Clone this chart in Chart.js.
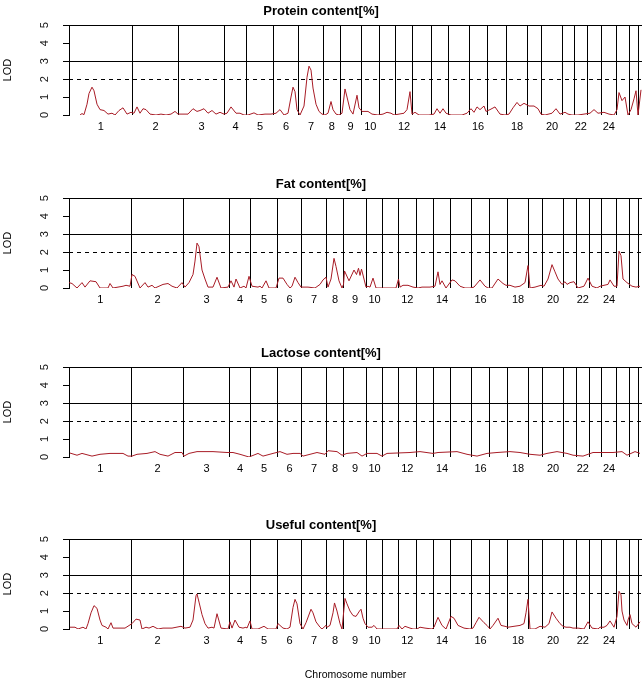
<!DOCTYPE html>
<html>
<head>
<meta charset="utf-8">
<title>LOD profiles</title>
<script src="https://cdn.jsdelivr.net/npm/chart.js@4.4.0/dist/chart.umd.min.js"></script>
<style>
  html, body { margin: 0; padding: 0; background: #fff; overflow: hidden; }
  #wrap { position: relative; width: 642px; height: 680px; }
  canvas { position: absolute; left: 0; }
</style>
</head>
<body>
<div id="wrap">
  <canvas id="c0" width="642" height="145" style="top:-1px"></canvas>
  <canvas id="c1" width="642" height="145" style="top:172px"></canvas>
  <canvas id="c2" width="642" height="145" style="top:341px"></canvas>
  <canvas id="c3" width="642" height="167" style="top:513px"></canvas>
</div>
<script>
// Datos (posición en cM acumulados, LOD)
const xMax = 1146;
const lodMax = 5;
const thresholdLod = 2;
const solidLods = [3, 5];

const chromLabels = ['1', '2', '3', '4', '5', '6', '7', '8', '9', '10', '', '12', '', '14', '', '16', '', '18', '', '20', '', '22', '', '24', '', ''];

// inicio de cada cromosoma (mapa de proteína y mapa de los otros tres rasgos)
const proteinChromStart = [0, 127, 219, 311, 355, 409, 459, 509, 542, 584, 621, 653, 687, 725, 759, 800, 836, 875, 917, 945, 987, 1010, 1037, 1064, 1095, 1121, 1138];
const mapChromStart = [0, 125, 229, 321, 363, 417, 465, 515, 549, 595, 627, 659, 694, 729, 763, 805, 841, 877, 919, 947, 989, 1014, 1041, 1065, 1095, 1121, 1138];

const proteinLod = [
  [22, 0], [26, 0.08], [30, 0.02], [36, 0.6], [40, 1.2], [46, 1.55], [50, 1.35], [56, 0.6], [62, 0.3], [70, 0.25], [78, 0.05], [86, 0.1], [92, 0], [100, 0.25], [108, 0.4], [116, 0.05], [124, 0.15],
  [130, 0.1], [136, 0.45], [142, 0.1], [148, 0.35], [154, 0.3], [162, 0.05], [174, 0], [184, 0.05], [194, 0], [204, 0.05], [212, 0.2], [218, 0.05],
  [224, 0.05], [238, 0.05], [248, 0.35], [256, 0.2], [262, 0.25], [270, 0.35], [278, 0.1], [286, 0.25], [294, 0.05], [302, 0.15], [310, 0.05],
  [316, 0.1], [324, 0.45], [334, 0.1], [342, 0.1], [350, 0],
  [358, 0], [370, 0.12], [378, 0], [392, 0.05], [404, 0.05],
  [414, 0.1], [422, 0.3], [430, 0], [438, 0.1], [444, 1.0], [448, 1.55], [452, 1.3], [456, 0.3],
  [462, 0], [470, 0.5], [476, 2.1], [480, 2.72], [484, 2.5], [488, 1.5], [494, 0.6], [500, 0.2], [506, 0.05],
  [512, 0], [518, 0.1], [524, 0.75], [528, 0.3], [534, 0.05], [540, 0],
  [546, 0.1], [552, 1.45], [556, 1.0], [562, 0.3], [568, 0.05], [576, 1.1], [580, 0.4],
  [586, 0.2], [598, 0.2], [606, 0.05], [618, 0],
  [628, 0.05], [636, 0.15], [644, 0.1], [650, 0],
  [660, 0.05], [670, 0.1], [676, 0.3], [682, 1.3], [686, 0.05],
  [692, 0.15], [700, 0], [720, 0],
  [730, 0.05], [736, 0.35], [742, 0.1], [748, 0.35], [754, 0.1],
  [764, 0], [786, 0], [796, 0.1],
  [804, 0.35], [810, 0.15], [816, 0.45], [822, 0.3], [830, 0.5], [834, 0.2],
  [842, 0.3], [852, 0.45], [862, 0.05], [872, 0],
  [880, 0.05], [888, 0.4], [896, 0.7], [902, 0.5], [910, 0.65],
  [920, 0.5], [930, 0.5], [938, 0.35], [944, 0.05],
  [952, 0], [966, 0.1], [974, 0.35], [982, 0.05],
  [992, 0.15], [998, 0.05], [1006, 0],
  [1018, 0], [1030, 0.05],
  [1042, 0.1], [1050, 0.3], [1058, 0.1],
  [1070, 0.15], [1080, 0.05], [1090, 0],
  [1096, 0.3], [1100, 1.25], [1106, 0.8], [1112, 1.0], [1118, 0],
  [1124, 0.3], [1130, 0.9], [1134, 1.35], [1138, 0], [1144, 1.4]
];

const fatLod = [
  [0, 0.3], [6, 0.25], [16, 0], [26, 0.3], [32, 0.05], [42, 0.4], [54, 0.35], [62, 0], [78, 0], [82, 0.25], [88, 0], [98, 0.05], [108, 0.1], [114, 0.15], [122, 0.1],
  [126, 0.75], [132, 0.65], [142, 0], [152, 0.3], [158, 0.05], [166, 0.15], [172, 0], [188, 0.2], [198, 0.25], [206, 0.1], [216, 0], [226, 0.3],
  [232, 0.05], [240, 0.3], [248, 0.75], [252, 1.5], [256, 2.5], [260, 2.3], [266, 1.0], [272, 0.5], [278, 0.05], [288, 0.05], [296, 0.6], [304, 0], [318, 0.05],
  [324, 0.4], [330, 0.05], [334, 0.5], [342, 0], [350, 0.1], [354, 0], [360, 0.65],
  [366, 0.1], [378, 0.05], [382, 0.1], [386, 0], [394, 0.4], [400, 0], [414, 0],
  [420, 0.55], [428, 0.55], [436, 0.2], [442, 0], [446, 0.1], [452, 0.6], [458, 0.3], [464, 0.05],
  [468, 0.05], [478, 0.05], [492, 0], [502, 0.2], [508, 0.45], [514, 0.6],
  [518, 0.05], [524, 0.5], [530, 1.65], [534, 1.2], [540, 0.4], [546, 0],
  [549, 0.2], [551, 0.95], [560, 0.4], [570, 1.0], [575, 0.75], [579, 1.1], [582, 0.7], [585, 1.05], [590, 0.5], [594, 0.05],
  [598, 0.1], [602, 0.05], [608, 0.55], [614, 0], [626, 0],
  [642, 0], [654, 0],
  [659, 0.5], [662, 0.05], [668, 0.15], [678, 0.15], [688, 0.05],
  [698, 0], [706, 0.05], [722, 0.05],
  [732, 0.1], [738, 0.9], [742, 0.2], [746, 0.4], [754, 0],
  [766, 0.45], [772, 0.4], [782, 0.1], [792, 0], [802, 0],
  [810, 0.05], [822, 0.45], [832, 0.1], [838, 0],
  [846, 0], [858, 0.5], [868, 0.25], [874, 0.15],
  [882, 0.15], [892, 0.05], [902, 0.1], [912, 0.3], [918, 1.25],
  [922, 0], [932, 0.05], [944, 0.15],
  [950, 0.1], [958, 0.5], [966, 1.3], [972, 0.9], [978, 0.5], [986, 0.2],
  [992, 0.35], [996, 0.2], [1002, 0.3], [1010, 0.35],
  [1018, 0], [1030, 0.1], [1038, 0.55],
  [1046, 0.1], [1056, 0], [1062, 0.1],
  [1070, 0.15], [1078, 0.2], [1082, 0.45], [1090, 0.1],
  [1096, 0.1], [1100, 2.05], [1104, 1.8], [1108, 0.5], [1116, 0.3],
  [1126, 0.1], [1134, 0.05], [1142, 0.1]
];

const lactoseLod = [
  [2, 0.22], [16, 0.1], [26, 0.2], [46, 0.05], [62, 0.15], [82, 0.2], [108, 0.2], [118, 0.05],
  [126, 0.05], [136, 0.15], [156, 0.2], [172, 0.3], [182, 0.15], [198, 0.05], [212, 0.25], [226, 0.25],
  [230, 0.05], [240, 0.2], [256, 0.3], [288, 0.3], [316, 0.25],
  [328, 0.25], [342, 0.15], [360, 0], [378, 0.2], [388, 0.05], [408, 0.2],
  [422, 0.3], [436, 0.15], [448, 0.2], [462, 0.2], [468, 0.05], [496, 0.25], [512, 0.15],
  [518, 0.35], [536, 0.3], [546, 0.1], [556, 0.2], [576, 0.25], [586, 0.05],
  [596, 0.2], [616, 0.2], [626, 0.05], [636, 0.2], [682, 0.25], [702, 0.3],
  [728, 0.2], [738, 0.25], [776, 0.3], [796, 0.15], [816, 0.05], [836, 0.2], [856, 0.25],
  [882, 0.3], [902, 0.25], [922, 0.15], [942, 0.1], [956, 0.2], [976, 0.3], [996, 0.2],
  [1008, 0.1], [1028, 0.05], [1048, 0.25], [1068, 0.25], [1088, 0.25], [1106, 0.3], [1116, 0.1],
  [1132, 0.3], [1142, 0.2]
];

const usefulLod = [
  [2, 0.1], [12, 0.1], [18, 0], [28, 0.1], [34, 0], [38, 0.3], [44, 0.9], [50, 1.3], [56, 1.15], [62, 0.5], [66, 0.2], [74, 0.1], [78, 0], [84, 0.35], [88, 0.05], [98, 0.05], [112, 0.05],
  [126, 0.3], [134, 0.55], [142, 0.5], [146, 0], [154, 0.1], [160, 0.05], [168, 0.15], [178, 0], [188, 0.05], [206, 0.05], [224, 0.15],
  [232, 0.05], [242, 0.1], [248, 0.5], [254, 1.85], [256, 1.95], [260, 1.5], [266, 0.8], [272, 0.3], [278, 0.05], [286, 0.1], [290, 0.05], [296, 0.85], [304, 0.05], [318, 0],
  [322, 0.4], [326, 0.05], [332, 0.5], [340, 0.1], [348, 0.05], [354, 0.1], [356, 0.05], [362, 0.45],
  [366, 0], [378, 0], [390, 0.15], [398, 0], [414, 0],
  [418, 0.3], [428, 0.05], [436, 0], [442, 0.1], [448, 1.2], [452, 1.65], [456, 1.4], [462, 0.3],
  [468, 0], [474, 0.35], [484, 1.1], [488, 0.9], [494, 0.4], [502, 0.1], [506, 0], [514, 0.2],
  [516, 0.1], [522, 0.2], [528, 0.9], [531, 1.45], [536, 1.0], [542, 0.3], [546, 0],
  [552, 1.7], [556, 1.4], [562, 1.0], [568, 0.75], [574, 0.7], [581, 1.0], [584, 1.1], [588, 0.6], [592, 0.3],
  [598, 0.1], [606, 0.1], [610, 0.2], [616, 0], [626, 0],
  [642, 0], [656, 0],
  [660, 0.2], [666, 0], [672, 0.15], [682, 0.05], [688, 0],
  [696, 0], [702, 0.1], [712, 0.05], [726, 0],
  [730, 0.1], [738, 0.65], [746, 0.2], [754, 0],
  [764, 0.7], [770, 0.6], [778, 0.2], [790, 0.05], [802, 0],
  [808, 0.05], [814, 0.35], [820, 0.65], [830, 0.35], [836, 0.2],
  [842, 0], [848, 0.2], [858, 0.6], [864, 0.2], [872, 0.15],
  [878, 0.1], [890, 0.15], [902, 0.2], [910, 0.3], [914, 0.9], [918, 1.65],
  [922, 0], [932, 0], [942, 0.15],
  [952, 0.1], [960, 0.3], [966, 0.95], [974, 0.6], [982, 0.3], [988, 0.15],
  [994, 0.1], [1002, 0.1], [1008, 0.05],
  [1018, 0.05], [1030, 0], [1038, 0.4],
  [1046, 0.05], [1058, 0], [1062, 0.1],
  [1070, 0.1], [1076, 0.2], [1082, 0.45], [1090, 0.1],
  [1096, 0.7], [1100, 2.1], [1104, 1.9], [1106, 1.0], [1110, 0.5], [1116, 0.2], [1118, 0.5],
  [1122, 0.8], [1126, 0.3], [1134, 0.1], [1142, 0.4]
];

const panels = [
  { id: 'c0', title: 'Protein content[%]', lod: proteinLod, starts: proteinChromStart },
  { id: 'c1', title: 'Fat content[%]', lod: fatLod, starts: mapChromStart },
  { id: 'c2', title: 'Lactose content[%]', lod: lactoseLod, starts: mapChromStart },
  { id: 'c3', title: 'Useful content[%]', lod: usefulLod, starts: mapChromStart, xTitle: 'Chromosome number' }
];

const FONT = '"Liberation Sans", Arial, sans-serif';
Chart.defaults.font.family = FONT;
Chart.defaults.color = '#000';

// Etiquetas del eje Y giradas como en R
const rotatedYLabels = {
  id: 'rotatedYLabels',
  afterDraw(chart) {
    const s = chart.scales.y;
    const ctx = chart.ctx;
    ctx.save();
    ctx.font = '11px ' + FONT;
    ctx.fillStyle = '#111';
    ctx.textAlign = 'center';
    ctx.textBaseline = 'middle';
    for (let v = 0; v <= lodMax; v++) {
      ctx.save();
      ctx.translate(45, s.getPixelForValue(v));
      ctx.rotate(-Math.PI / 2);
      ctx.fillText(String(v), 0, 0);
      ctx.restore();
    }
    ctx.restore();
  }
};

function buildPanel(p) {
  const canvas = document.getElementById(p.id);
  const mids = [];
  for (let i = 0; i < p.starts.length - 1; i++) {
    mids.push((p.starts[i] + p.starts[i + 1]) / 2);
  }
  const plotHeight = 91;
  const titleHeight = 25;
  const xHeight = canvas.height - titleHeight - plotHeight;

  new Chart(canvas.getContext('2d'), {
    type: 'line',
    data: {
      datasets: [{
        data: p.lod.map(d => ({ x: d[0], y: d[1] })),
        borderColor: '#a81c26',
        borderWidth: 1,
        pointRadius: 0,
        tension: 0,
        fill: false
      }]
    },
    plugins: [rotatedYLabels],
    options: {
      responsive: false,
      animation: false,
      devicePixelRatio: 1,
      layout: { padding: 0 },
      plugins: {
        legend: { display: false },
        tooltip: { enabled: false },
        title: {
          display: true,
          text: p.title,
          color: '#000',
          font: { size: 13, weight: 'bold' },
          padding: { top: 4.3, bottom: 6.3 }
        }
      },
      scales: {
        x: {
          type: 'linear',
          min: 0,
          max: xMax,
          position: 'bottom',
          grid: { display: false, drawTicks: false },
          border: { display: false },
          afterBuildTicks: a => { a.ticks = mids.map(v => ({ value: v })); },
          afterFit: a => { a.height = xHeight; },
          ticks: {
            autoSkip: false,
            maxRotation: 0,
            minRotation: 0,
            padding: 5,
            color: '#000',
            font: { size: 11 },
            callback: (v, i) => chromLabels[i]
          },
          title: {
            display: !!p.xTitle,
            text: p.xTitle || '',
            color: '#000',
            font: { size: 10.5 },
            padding: { top: 0, bottom: -1 }
          }
        },
        xb: {
          type: 'linear',
          min: 0,
          max: xMax,
          position: 'top',
          afterBuildTicks: a => { a.ticks = p.starts.map(v => ({ value: v })); },
          afterFit: a => { a.height = 0; },
          grid: { color: '#000', lineWidth: 1, drawTicks: false },
          border: { display: false },
          ticks: { display: false }
        },
        y: {
          type: 'linear',
          min: 0,
          max: lodMax,
          position: 'left',
          afterBuildTicks: a => {
            const t = [];
            for (let v = 0; v <= lodMax; v++) t.push({ value: v });
            a.ticks = t;
          },
          afterFit: a => { a.width = 69; },
          grid: {
            color: c => (c.tick && solidLods.includes(c.tick.value)) ? '#000' : 'rgba(0,0,0,0)',
            tickColor: '#000',
            tickLength: 6,
            lineWidth: 1
          },
          border: { display: true, color: '#000' },
          ticks: { display: false },
          title: {
            display: true,
            text: 'LOD',
            color: '#000',
            font: { size: 11 },
            padding: 1
          }
        },
        yt: {
          type: 'linear',
          min: 0,
          max: lodMax,
          position: 'right',
          afterBuildTicks: a => { a.ticks = [{ value: thresholdLod }]; },
          afterFit: a => { a.width = 0; },
          grid: { color: '#000', lineWidth: 1, drawTicks: false },
          border: { display: false, dash: [4, 4] },
          ticks: { display: false }
        }
      }
    }
  });
}

panels.forEach(buildPanel);
</script>
</body>
</html>
